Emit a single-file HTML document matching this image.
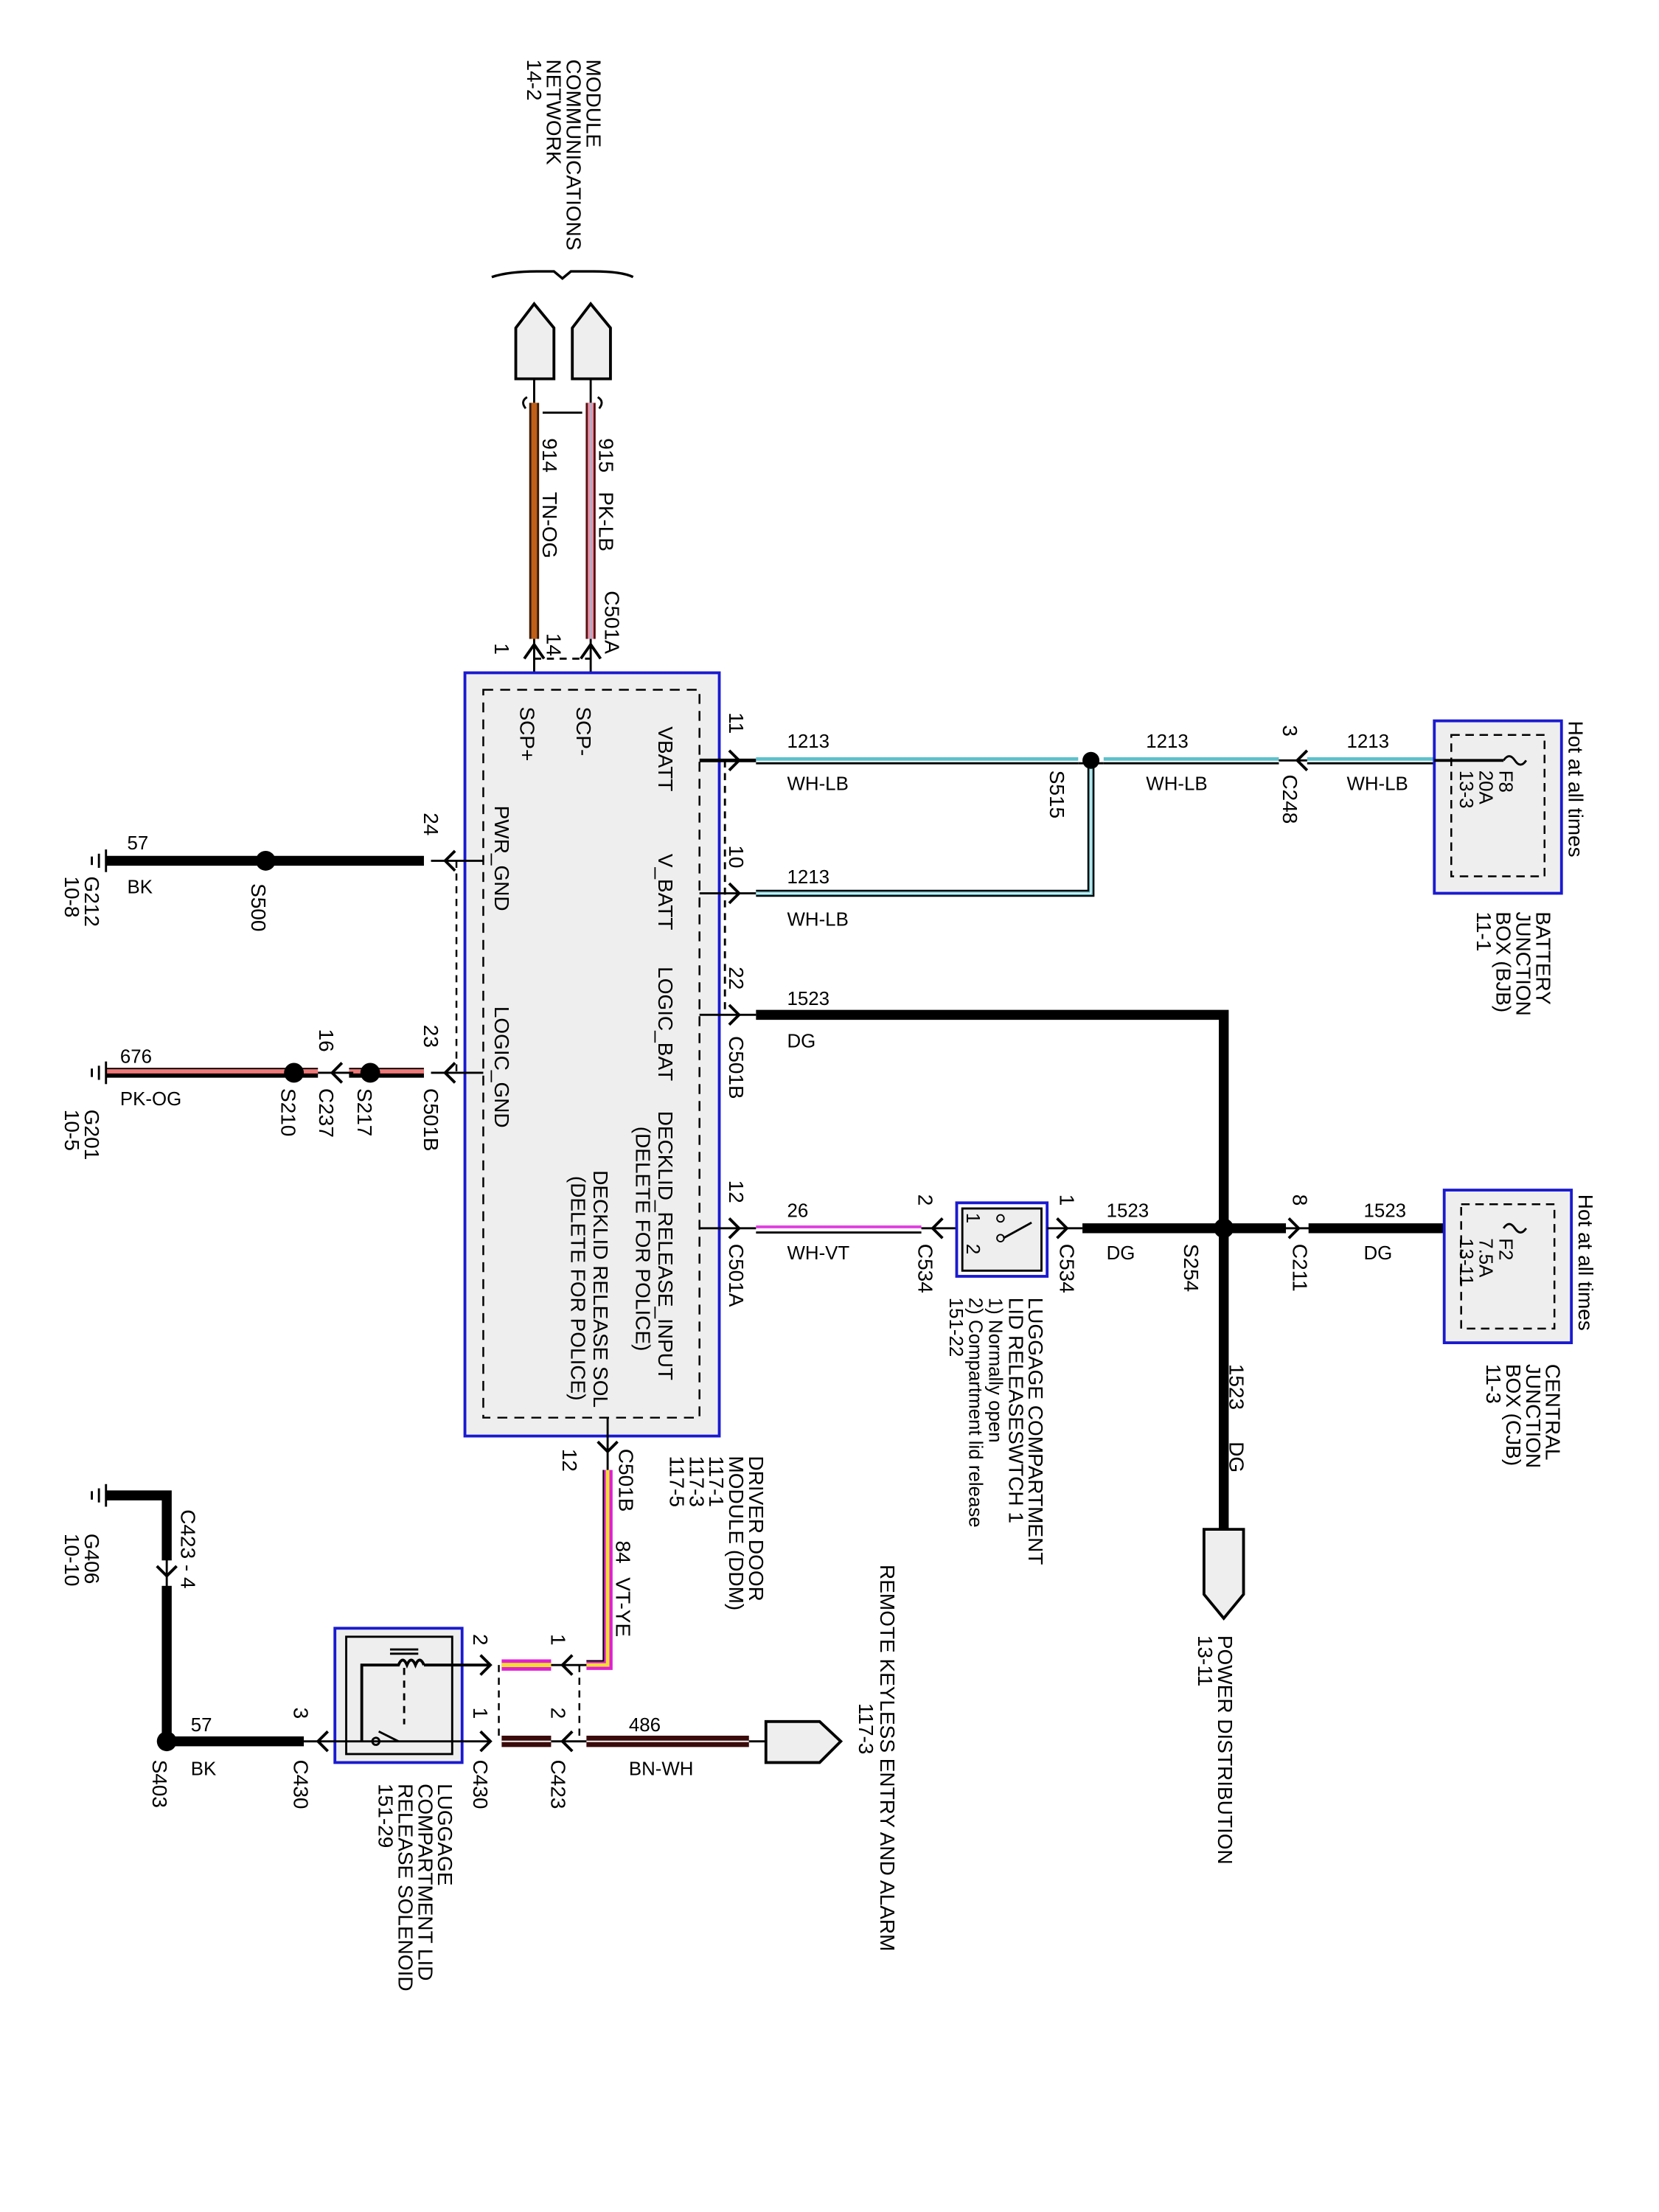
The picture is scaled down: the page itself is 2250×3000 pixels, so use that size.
<!DOCTYPE html>
<html><head><meta charset="utf-8"><style>
html,body{margin:0;padding:0;background:#fff;}
svg{display:block;}
text{font-family:"Liberation Sans",sans-serif;font-size:14.6px;fill:#000;}
.s{font-size:13.5px;}
</style></head><body>
<svg width="2250" height="3000" viewBox="0 0 1174 1565" preserveAspectRatio="none" xmlns="http://www.w3.org/2000/svg">
<rect width="1174" height="1565" fill="#fff"/>

<g>
<text transform="translate(415,42) rotate(90)">MODULE</text>
<text transform="translate(401,42) rotate(90)">COMMUNICATIONS</text>
<text transform="translate(387,42) rotate(90)">NETWORK</text>
<text transform="translate(373,42) rotate(90)">14-2</text>
</g>
<path d="M348,196 Q360,192 380,192 L392,192 L398,197 L404,192 L420,192 Q440,192 448,196" fill="none" stroke="#000" stroke-width="1.8"/>
<path d="M365,268 L365,232 L378,215 L392,232 L392,268 Z" fill="#eee" stroke="#000" stroke-width="2"/>
<path d="M405,268 L405,232 L418,215 L432,232 L432,268 Z" fill="#eee" stroke="#000" stroke-width="2"/>
<line x1="378" y1="268" x2="378" y2="285" stroke="#000" stroke-width="1.5"/>
<line x1="418" y1="268" x2="418" y2="285" stroke="#000" stroke-width="1.5"/>
<line x1="378" y1="285" x2="378" y2="452" stroke="#3a1a00" stroke-width="7"/>
<line x1="378" y1="285" x2="378" y2="452" stroke="#c0601a" stroke-width="4"/>
<line x1="418" y1="285" x2="418" y2="452" stroke="#5a1010" stroke-width="7"/>
<line x1="418" y1="285" x2="418" y2="452" stroke="#e890a8" stroke-width="4"/>
<line x1="418" y1="285" x2="418" y2="452" stroke="#a0b8d0" stroke-width="1"/>
<path d="M372,289 q-4,-5 1,-8 M384,292 L412,292 M424,289 q4,-5 -1,-8" fill="none" stroke="#000" stroke-width="1.5"/>
<text transform="translate(384,310) rotate(90)">914</text>
<text transform="translate(384,348) rotate(90)">TN-OG</text>
<text transform="translate(424,310) rotate(90)">915</text>
<text transform="translate(424,348) rotate(90)">PK-LB</text>
<text transform="translate(428,418) rotate(90)">C501A</text>
<text transform="translate(350,455) rotate(90)">1</text>
<text transform="translate(387,448) rotate(90)">14</text>
<path d="M371,466 L378,456 L385,466 M411,466 L418,456 L425,466" fill="none" stroke="#000" stroke-width="2"/>
<line x1="378" y1="452" x2="378" y2="488" stroke="#000" stroke-width="1.5"/>
<line x1="418" y1="452" x2="418" y2="488" stroke="#000" stroke-width="1.5"/>
<line x1="378" y1="466" x2="418" y2="466" stroke="#000" stroke-width="1.5" stroke-dasharray="5,4"/>

<rect x="329" y="476" width="180" height="540" fill="#eee" stroke="#1a1ad0" stroke-width="2"/>
<rect x="342" y="488" width="153" height="515" fill="none" stroke="#000" stroke-width="1.3" stroke-dasharray="7,5"/>
<text transform="translate(466,514) rotate(90)">VBATT</text>
<text transform="translate(408,500) rotate(90)">SCP-</text>
<text transform="translate(368,500) rotate(90)">SCP+</text>
<text transform="translate(466,604) rotate(90)">V_BATT</text>
<text transform="translate(350,570) rotate(90)">PWR_GND</text>
<text transform="translate(466,684) rotate(90)">LOGIC_BAT</text>
<text transform="translate(350,712) rotate(90)">LOGIC_GND</text>
<text transform="translate(466,786) rotate(90)">DECKLID_RELEASE_INPUT</text>
<text transform="translate(450,797) rotate(90)">(DELETE FOR POLICE)</text>
<text transform="translate(420,828) rotate(90)">DECKLID RELEASE SOL</text>
<text transform="translate(404,832) rotate(90)">(DELETE FOR POLICE)</text>

<g stroke="#000" stroke-width="1.5" fill="none">
<line x1="495" y1="538" x2="535" y2="538" stroke-width="2.5"/>
<line x1="495" y1="632" x2="535" y2="632"/>
<line x1="495" y1="718" x2="535" y2="718"/>
<line x1="495" y1="869" x2="535" y2="869"/>
<line x1="513" y1="538" x2="513" y2="718" stroke-dasharray="5,4"/>
<path d="M516,531 L523,538 L516,545 M516,625 L523,632 L516,639 M516,711 L523,718 L516,725 M516,862 L523,869 L516,876" stroke-width="2"/>
</g>
<text transform="translate(516,504) rotate(90)">11</text>
<text transform="translate(516,598) rotate(90)">10</text>
<text transform="translate(516,684) rotate(90)">22</text>
<text transform="translate(516,733) rotate(90)">C501B</text>
<text transform="translate(516,835) rotate(90)">12</text>
<text transform="translate(516,880) rotate(90)">C501A</text>

<g fill="none">
<line x1="535" y1="540" x2="1015" y2="540" stroke="#000" stroke-width="1.5"/>
<line x1="535" y1="537" x2="1015" y2="537" stroke="#5cc0cc" stroke-width="2.5"/>
<path d="M535,632 L772,632 L772,538" stroke="#000" stroke-width="5"/>
<path d="M535,632 L772,632 L772,538" stroke="#5cc0cc" stroke-width="2.5"/>
<path d="M535,632 L772,632 L772,538" stroke="#fff" stroke-width="0.8"/>
</g>
<rect x="763" y="533" width="18" height="10" fill="#fff"/>
<line x1="763" y1="540" x2="781" y2="540" stroke="#000" stroke-width="1.5"/>
<circle cx="772" cy="538" r="6" fill="#000"/>
<rect x="905" y="530" width="20" height="16" fill="#fff"/>
<path d="M925,531 L918,538 L925,545" fill="none" stroke="#000" stroke-width="2"/>
<line x1="905" y1="538" x2="925" y2="538" stroke="#000" stroke-width="1.5"/>
<text x="557" y="529" class="s">1213</text><text x="557" y="559" class="s">WH-LB</text>
<text x="557" y="625" class="s">1213</text><text x="557" y="655" class="s">WH-LB</text>
<text x="811" y="529" class="s">1213</text><text x="811" y="559" class="s">WH-LB</text>
<text x="953" y="529" class="s">1213</text><text x="953" y="559" class="s">WH-LB</text>
<text transform="translate(743,545) rotate(90)">S515</text>
<text transform="translate(908,513) rotate(90)">3</text>
<text transform="translate(908,548) rotate(90)">C248</text>

<rect x="1015" y="510" width="90" height="122" fill="#eee" stroke="#1a1ad0" stroke-width="2"/>
<rect x="1027" y="520" width="66" height="100" fill="none" stroke="#000" stroke-width="1.3" stroke-dasharray="6,4"/>
<line x1="1015" y1="538" x2="1064" y2="538" stroke="#000" stroke-width="2"/>
<path d="M1064,538 q4,-6 8,0 q4,6 8,0" fill="none" stroke="#000" stroke-width="1.5"/>
<text transform="translate(1061,545) rotate(90)" class="s">F8</text>
<text transform="translate(1047,545) rotate(90)" class="s">20A</text>
<text transform="translate(1033,545) rotate(90)" class="s">13-3</text>
<text transform="translate(1110,510) rotate(90)">Hot at all times</text>
<text transform="translate(1087,645) rotate(90)">BATTERY</text>
<text transform="translate(1073,645) rotate(90)">JUNCTION</text>
<text transform="translate(1059,645) rotate(90)">BOX (BJB)</text>
<text transform="translate(1045,645) rotate(90)">11-1</text>

<path d="M535,718 L866,718 L866,1082" fill="none" stroke="#000" stroke-width="7"/>
<text x="557" y="711" class="s">1523</text><text x="557" y="741" class="s">DG</text>
<text transform="translate(870,965) rotate(90)">1523</text>
<text transform="translate(870,1020) rotate(90)">DG</text>
<path d="M852,1082 L852,1128 L866,1145 L880,1128 L880,1082 Z" fill="#eee" stroke="#000" stroke-width="2"/>
<text transform="translate(862,1157) rotate(90)">POWER DISTRIBUTION</text>
<text transform="translate(848,1157) rotate(90)">13-11</text>

<line x1="535" y1="872" x2="652" y2="872" stroke="#000" stroke-width="1.5"/>
<line x1="535" y1="868" x2="652" y2="868" stroke="#e040e0" stroke-width="2"/>
<text x="557" y="861" class="s">26</text><text x="557" y="891" class="s">WH-VT</text>
<path d="M667,862 L660,869 L667,876" fill="none" stroke="#000" stroke-width="2"/>
<line x1="652" y1="869" x2="677" y2="869" stroke="#000" stroke-width="1.5"/>
<text transform="translate(650,845) rotate(90)">2</text>
<text transform="translate(650,880) rotate(90)">C534</text>
<rect x="677" y="851" width="64" height="52" fill="none" stroke="#1a1ad0" stroke-width="2"/>
<rect x="681" y="855" width="56" height="44" fill="#eee" stroke="#000" stroke-width="1.5"/>
<text transform="translate(684,858) rotate(90)" class="s">1</text>
<text transform="translate(684,880) rotate(90)" class="s">2</text>
<circle cx="708" cy="862" r="2.5" fill="none" stroke="#000"/>
<circle cx="708" cy="876" r="2.5" fill="none" stroke="#000"/>
<line x1="710" y1="876" x2="730" y2="865" stroke="#000" stroke-width="1.5"/>
<line x1="741" y1="869" x2="766" y2="869" stroke="#000" stroke-width="1.5"/>
<path d="M748,862 L755,869 L748,876" fill="none" stroke="#000" stroke-width="2"/>
<text transform="translate(750,845) rotate(90)">1</text>
<text transform="translate(750,880) rotate(90)">C534</text>
<line x1="766" y1="869" x2="1022" y2="869" stroke="#000" stroke-width="7"/>
<rect x="910" y="860" width="16" height="18" fill="#fff"/>
<path d="M912,862 L919,869 L912,876" fill="none" stroke="#000" stroke-width="2"/>
<line x1="905" y1="869" x2="930" y2="869" stroke="#000" stroke-width="1.5"/>
<circle cx="866" cy="869" r="7" fill="#000"/>
<text x="783" y="861" class="s">1523</text><text x="783" y="891" class="s">DG</text>
<text x="965" y="861" class="s">1523</text><text x="965" y="891" class="s">DG</text>
<text transform="translate(838,880) rotate(90)">S254</text>
<text transform="translate(915,845) rotate(90)">8</text>
<text transform="translate(915,880) rotate(90)">C211</text>
<text transform="translate(728,918) rotate(90)">LUGGAGE COMPARTMENT</text>
<text transform="translate(714,918) rotate(90)">LID RELEASESWTCH 1</text>
<text transform="translate(700,918) rotate(90)" class="s">1) Normally open</text>
<text transform="translate(686,918) rotate(90)" class="s">2) Compartment lid release</text>
<text transform="translate(672,918) rotate(90)" class="s">151-22</text>

<rect x="1022" y="842" width="90" height="108" fill="#eee" stroke="#1a1ad0" stroke-width="2"/>
<rect x="1034" y="852" width="66" height="88" fill="none" stroke="#000" stroke-width="1.3" stroke-dasharray="6,4"/>
<path d="M1064,869 q4,-6 8,0 q4,6 8,0" fill="none" stroke="#000" stroke-width="1.5"/>
<text transform="translate(1061,876) rotate(90)" class="s">F2</text>
<text transform="translate(1047,876) rotate(90)" class="s">7.5A</text>
<text transform="translate(1033,876) rotate(90)" class="s">13-11</text>
<text transform="translate(1117,845) rotate(90)">Hot at all times</text>
<text transform="translate(1094,965) rotate(90)">CENTRAL</text>
<text transform="translate(1080,965) rotate(90)">JUNCTION</text>
<text transform="translate(1066,965) rotate(90)">BOX (CJB)</text>
<text transform="translate(1052,965) rotate(90)">11-3</text>

<g stroke="#000" fill="none">
<line x1="342" y1="609" x2="305" y2="609" stroke-width="1.5"/>
<line x1="342" y1="759" x2="305" y2="759" stroke-width="1.5"/>
<line x1="323" y1="609" x2="323" y2="759" stroke-width="1.3" stroke-dasharray="5,4"/>
<path d="M322,602 L315,609 L322,616 M322,752 L315,759 L322,766" stroke-width="2"/>
<line x1="300" y1="609" x2="75" y2="609" stroke-width="7"/>
<line x1="75" y1="601" x2="75" y2="617" stroke-width="1.5"/>
<line x1="70" y1="604" x2="70" y2="614" stroke-width="1.5"/>
<line x1="65" y1="606" x2="65" y2="612" stroke-width="1.5"/>
</g>
<circle cx="188" cy="609" r="7" fill="#000"/>
<text transform="translate(300,575) rotate(90)">24</text>
<text x="90" y="601" class="s">57</text><text x="90" y="632" class="s">BK</text>
<text transform="translate(178,625) rotate(90)">S500</text>
<text transform="translate(60,620) rotate(90)">G212</text>
<text transform="translate(46,620) rotate(90)">10-8</text>

<line x1="300" y1="759" x2="75" y2="759" stroke="#000" stroke-width="7"/>
<line x1="300" y1="758" x2="75" y2="758" stroke="#f07878" stroke-width="3"/>
<rect x="225" y="750" width="22" height="18" fill="#fff"/>
<path d="M242,752 L235,759 L242,766" fill="none" stroke="#000" stroke-width="2"/>
<line x1="225" y1="759" x2="250" y2="759" stroke="#000" stroke-width="1.5"/>
<circle cx="262" cy="759" r="7" fill="#000"/>
<circle cx="208" cy="759" r="7" fill="#000"/>
<g stroke="#000" stroke-width="1.5">
<line x1="75" y1="751" x2="75" y2="767"/><line x1="70" y1="754" x2="70" y2="764"/><line x1="65" y1="756" x2="65" y2="762"/>
</g>
<text transform="translate(300,725) rotate(90)">23</text>
<text transform="translate(300,770) rotate(90)">C501B</text>
<text transform="translate(226,728) rotate(90)">16</text>
<text transform="translate(226,770) rotate(90)">C237</text>
<text transform="translate(253,770) rotate(90)">S217</text>
<text transform="translate(199,770) rotate(90)">S210</text>
<text x="85" y="752" class="s">676</text><text x="85" y="782" class="s">PK-OG</text>
<text transform="translate(60,785) rotate(90)">G201</text>
<text transform="translate(46,785) rotate(90)">10-5</text>

<line x1="430" y1="1003" x2="430" y2="1040" stroke="#000" stroke-width="1.5"/>
<path d="M423,1020 L430,1027 L437,1020" fill="none" stroke="#000" stroke-width="2"/>
<text transform="translate(398,1025) rotate(90)">12</text>
<text transform="translate(438,1025) rotate(90)">C501B</text>
<path d="M430,1040 L430,1178 L415,1178" fill="none" stroke="#e020d0" stroke-width="7"/>
<path d="M430,1040 L430,1178 L415,1178" fill="none" stroke="#f0e030" stroke-width="2.5"/>
<path d="M427,1040 L427,1175 L415,1175" fill="none" stroke="#000" stroke-width="1"/>
<text transform="translate(436,1090) rotate(90)">84</text>
<text transform="translate(436,1116) rotate(90)">VT-YE</text>
<text transform="translate(530,1030) rotate(90)">DRIVER DOOR</text>
<text transform="translate(516,1030) rotate(90)">MODULE (DDM)</text>
<text transform="translate(502,1030) rotate(90)">117-1</text>
<text transform="translate(488,1030) rotate(90)">117-3</text>
<text transform="translate(474,1030) rotate(90)">117-5</text>

<g stroke="#000" fill="none">
<line x1="415" y1="1178" x2="390" y2="1178" stroke-width="1.5"/>
<path d="M405,1171 L398,1178 L405,1185 M405,1225 L398,1232 L405,1239" stroke-width="2"/>
<path d="M340,1171 L347,1178 L340,1185 M340,1225 L347,1232 L340,1239" stroke-width="2"/>
<line x1="410" y1="1178" x2="410" y2="1232" stroke-width="1.3" stroke-dasharray="5,4"/>
<line x1="353" y1="1178" x2="353" y2="1232" stroke-width="1.3" stroke-dasharray="5,4"/>
</g>
<line x1="355" y1="1178" x2="390" y2="1178" stroke="#e020d0" stroke-width="8"/>
<line x1="355" y1="1178" x2="390" y2="1178" stroke="#f0e030" stroke-width="3"/>
<line x1="355" y1="1232" x2="390" y2="1232" stroke="#3a0a0a" stroke-width="8"/>
<line x1="355" y1="1232" x2="390" y2="1232" stroke="#fff" stroke-width="1"/>
<line x1="415" y1="1232" x2="530" y2="1232" stroke="#3a0a0a" stroke-width="8"/>
<line x1="415" y1="1232" x2="530" y2="1232" stroke="#fff" stroke-width="1"/>
<line x1="390" y1="1232" x2="415" y2="1232" stroke="#000" stroke-width="1.5"/>
<line x1="530" y1="1232" x2="542" y2="1232" stroke="#000" stroke-width="1.5"/>
<path d="M542,1218 L580,1218 L595,1232 L580,1247 L542,1247 Z" fill="#eee" stroke="#000" stroke-width="2"/>
<text x="445" y="1225" class="s">486</text><text x="445" y="1256" class="s">BN-WH</text>
<text transform="translate(623,1107) rotate(90)">REMOTE KEYLESS ENTRY AND ALARM</text>
<text transform="translate(608,1205) rotate(90)">117-3</text>
<text transform="translate(390,1156) rotate(90)">1</text>
<text transform="translate(335,1156) rotate(90)">2</text>
<text transform="translate(390,1208) rotate(90)">2</text>
<text transform="translate(335,1208) rotate(90)">1</text>
<text transform="translate(390,1245) rotate(90)">C423</text>
<text transform="translate(335,1245) rotate(90)">C430</text>

<rect x="237" y="1152" width="90" height="95" fill="#eee" stroke="#1a1ad0" stroke-width="2"/>
<rect x="245" y="1158" width="75" height="83" fill="none" stroke="#000" stroke-width="1.5"/>
<g stroke="#000" fill="none" stroke-width="1.5">
<path d="M347,1178 L300,1178 M300,1178 q-3,-7 -6,0 q-3,-7 -6,0 q-3,-7 -6,0 L256,1178 L256,1232" stroke-width="2"/>
<line x1="276" y1="1167" x2="296" y2="1167"/><line x1="276" y1="1170" x2="296" y2="1170"/>
<line x1="286" y1="1180" x2="286" y2="1220" stroke-dasharray="5,4"/>
<line x1="347" y1="1232" x2="215" y2="1232"/>
<line x1="268" y1="1225" x2="282" y2="1232"/>
<circle cx="266" cy="1232" r="2.5"/>
</g>
<path d="M232,1225 L225,1232 L232,1239" fill="none" stroke="#000" stroke-width="2"/>
<text transform="translate(208,1208) rotate(90)">3</text>
<text transform="translate(208,1245) rotate(90)">C430</text>
<text transform="translate(310,1262) rotate(90)">LUGGAGE</text>
<text transform="translate(296,1262) rotate(90)">COMPARTMENT LID</text>
<text transform="translate(282,1262) rotate(90)">RELEASE SOLENOID</text>
<text transform="translate(268,1262) rotate(90)">151-29</text>

<path d="M215,1232 L118,1232 L118,1058 L75,1058" fill="none" stroke="#000" stroke-width="7"/>
<rect x="110" y="1104" width="16" height="18" fill="#fff"/>
<path d="M111,1108 L118,1115 L125,1108" fill="none" stroke="#000" stroke-width="2"/>
<line x1="118" y1="1100" x2="118" y2="1125" stroke="#000" stroke-width="1.5"/>
<circle cx="118" cy="1232" r="7" fill="#000"/>
<g stroke="#000" stroke-width="1.5">
<line x1="75" y1="1050" x2="75" y2="1066"/><line x1="70" y1="1053" x2="70" y2="1063"/><line x1="65" y1="1055" x2="65" y2="1061"/>
</g>
<text transform="translate(128,1068) rotate(90)">C423 - 4</text>
<text x="135" y="1225" class="s">57</text><text x="135" y="1256" class="s">BK</text>
<text transform="translate(108,1245) rotate(90)">S403</text>
<text transform="translate(60,1085) rotate(90)">G406</text>
<text transform="translate(46,1085) rotate(90)">10-10</text>
</svg>
</body></html>
